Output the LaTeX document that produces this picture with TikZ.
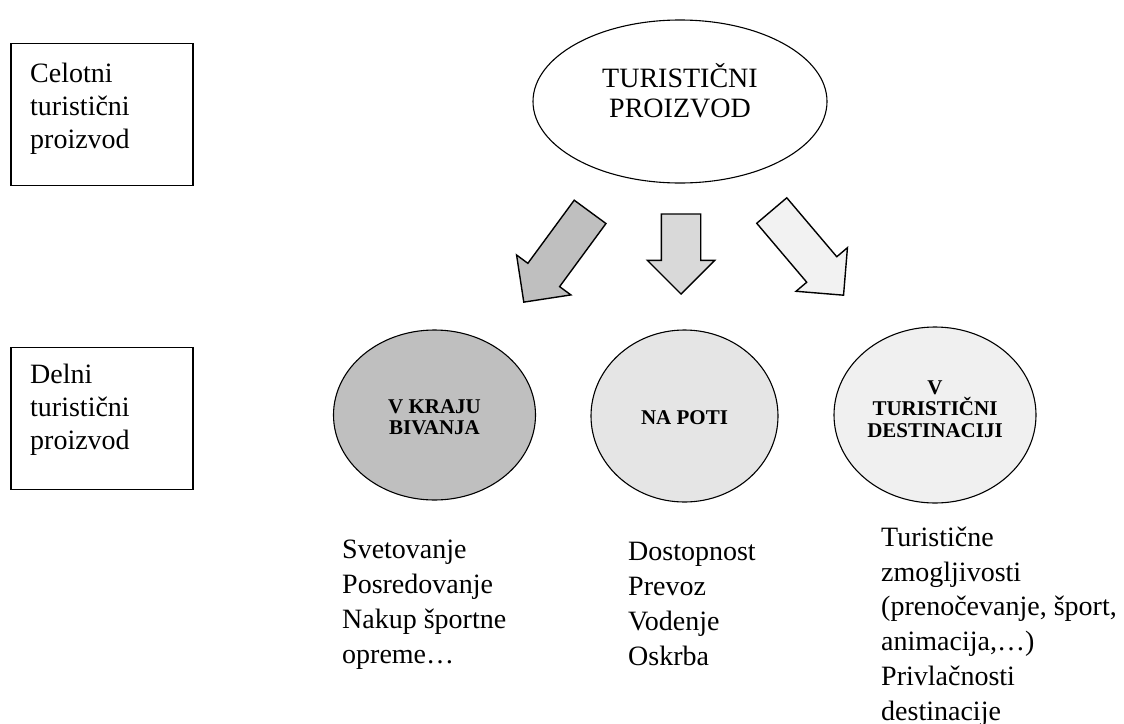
\documentclass[tikz,border=0pt]{standalone}
\usepackage{fontspec}
\setmainfont{Liberation Serif}
\usetikzlibrary{shapes.geometric,shapes.arrows,positioning}

\begin{document}
\begin{tikzpicture}[x=1pt,y=-1pt,
    sidebox/.style={draw,line width=1.4pt,minimum width=182pt,minimum height=142pt,inner sep=0pt},
    sidetext/.style={font=\fontsize{28}{33}\selectfont,align=left,inner sep=0pt,anchor=base west},
    oval/.style={ellipse,draw,line width=1.1pt,inner sep=0pt},
    ovallabel/.style={font=\fontsize{21}{21.5}\selectfont\bfseries,align=center,inner sep=0pt},
    biglabel/.style={font=\fontsize{28}{30}\selectfont,align=center,inner sep=0pt},
    bigarrow/.style={single arrow,draw,line width=1.4pt,inner xsep=0pt,inner ysep=19pt,single arrow head extend=14pt,anchor=tail},
    listtext/.style={font=\fontsize{28}{34.7}\selectfont,align=left,inner sep=0pt,anchor=base west}]

    % page frame
    \useasboundingbox (0,0) rectangle (1124,723);

    % boxes on the left (text anchored at the last line)
    \node[sidebox] (whole) at (102,114.5) {};
    \node[sidetext] (wholetext) at (30,148) {Celotni\\turistični\\proizvod};
    \node[sidebox] (part) at (102,418.5) {};
    \node[sidetext] (parttext) at (30,449) {Delni\\turistični\\proizvod};

    % main product
    \node[oval,minimum width=294pt,minimum height=163pt,
          label={[biglabel,yshift=10.7pt]center:{TURISTIČNI\\PROIZVOD}}] (product) at (680,101.5) {};

    % arrows, placed at their tails
    \node[bigarrow,fill=black!25,minimum height=112pt,rotate=233.7] (arrowhome) at (590.5,211.3) {};
    \node[bigarrow,fill=black!15,minimum height=80pt,rotate=-90] (arrowway) at (681,213.3) {};
    \node[bigarrow,fill=black!5,minimum height=111pt,rotate=-49.7] (arrowdest) at (771.3,210) {};

    % partial products
    \node[oval,fill=black!25,minimum width=202pt,minimum height=170pt,
          label={[ovallabel,yshift=-2pt]center:{V KRAJU\\BIVANJA}}] (home) at (434.5,415) {};
    \node[oval,fill=black!10,minimum width=187pt,minimum height=172pt,
          label={[ovallabel,yshift=-2pt]center:{NA POTI}}] (way) at (684.5,416) {};
    \node[oval,fill=black!6,minimum width=202pt,minimum height=176pt,
          label={[ovallabel,yshift=6pt]center:{V\\TURISTIČNI\\DESTINACIJI}}] (dest) at (935,415) {};

    % lists below (text anchored at the last line)
    \node[listtext] (homelist) at (342,663) {Svetovanje\\Posredovanje\\Nakup športne\\opreme…};
    \node[listtext] (waylist) at (628,665) {Dostopnost\\Prevoz\\Vodenje\\Oskrba};
    \node[listtext] (destlist) at (881,720) {Turistične\\zmogljivosti\\(prenočevanje, šport,\\animacija,…)\\Privlačnosti\\destinacije};

\end{tikzpicture}
\end{document}
